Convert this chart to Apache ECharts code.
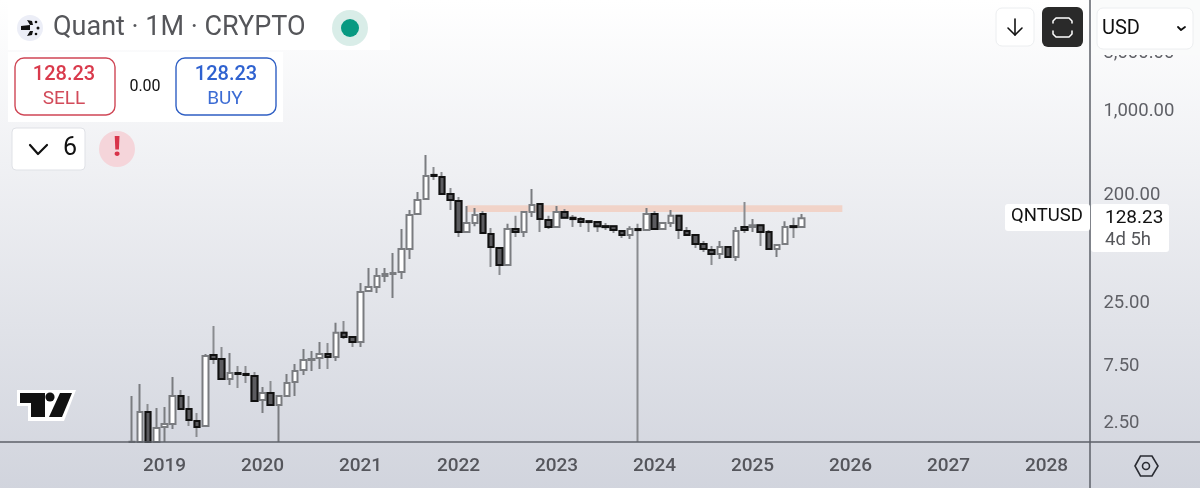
<!DOCTYPE html>
<html>
<head>
<meta charset="utf-8">
<style>html,body{margin:0;padding:0;background:#fff}#main{width:1200px;height:492px}</style>
<script src="https://cdn.jsdelivr.net/npm/echarts@6/dist/echarts.min.js"></script>
</head>
<body>
<div id="main"></div>
<script>
// monthly QNTUSD candles, Sep 2018 to Jul 2025
// anything that runs under the time axis in the picture is held at 1.75
var opens = [1.75,1.75,3.11,1.75,2.33,2.47,4.23,3.29,2.62,2.38,
  9.28,8.60,5.86,6.57,6.45,6.20,3.91,4.48,3.56,4.23,
  5.53,6.96,8.43,8.76,9.46,8.93,14.2,13.1,11.9,31.7,
  34.2,42.3,43.9,45.6,71.0,139,185,294,283,204,
  178,98.3,117,139,94.6,72.3,52.2,104,98.3,144,
  168,124,108,144,129,126,121,119,110,110,
  100,92.8,104,102,139,104,117,134,100,92.8,
  78.1,69.6,64.5,73.7,60.9,108,108,112,98.3,71.0,
  78.1,110,108];
var closes = [1.76,3.11,1.75,2.29,2.47,4.23,3.29,2.67,2.33,9.11,
  8.60,5.86,6.57,6.45,6.32,3.84,4.48,3.56,4.23,5.42,
  6.83,8.43,8.60,9.46,8.93,14.2,13.1,11.9,31.1,34.2,
  42.3,43.9,44.8,71.0,136,182,288,288,204,182,
  98.3,117,136,96.5,73.7,52.2,104,98.3,144,165,
  126,108,144,129,126,119,119,110,108,102,
  92.8,104,102,139,104,117,134,102,92.8,78.1,
  71.0,64.5,73.7,60.9,100,102,112,98.3,71.0,76.6,
  108,108,128.23];
var lows = [1.75,1.75,1.75,1.75,1.75,2.24,3.29,2.38,1.92,2.38,
  7.81,5.86,5.22,4.93,5.42,3.77,3.05,3.56,1.75,4.23,
  4.23,6.32,6.83,7.10,7.10,8.27,12.6,10.8,10.8,31.1,
  30.5,37.7,27.7,39.9,58.6,139,185,267,204,150,
  89.3,98.3,110,96.5,50.2,43.1,52.2,89.3,89.3,131,
  98.3,104,108,129,108,108,98.3,98.3,102,96.5,
  87.6,86.0,1.75,102,104,104,108,86.0,92.8,72.3,
  67.0,52.2,58.6,60.9,56.4,96.5,98.3,75.2,69.6,60.9,
  78.1,87.6,106];
var highs = [4.23,5.32,3.63,3.36,3.42,6.09,4.74,4.23,3.05,9.46,
  16.2,10.8,9.65,7.52,7.52,6.70,5.02,5.64,4.23,6.45,
  7.81,10.4,10.0,11.9,11.7,17.2,17.8,13.1,37.0,49.3,
  49.3,49.3,65.7,104,150,212,431,342,311,229,
  192,162,156,147,106,72.3,115,134,147,224,
  168,134,162,153,136,131,121,119,117,110,
  100,110,115,156,147,117,150,134,108,92.8,
  82.7,75.2,82.7,73.7,108,175,126,112,102,76.6,
  121,129,139];

var priceTicks = [2.5, 7.5, 25, 200, 1000, 3000];
var yearLabels = ['2019', '2020', '2021', '2022', '2023', '2024', '2025', '2026', '2027', '2028'];
var bandLow = 144, bandHigh = 164;

// axis runs Jun 2017 .. Jun 2028, one category per month
var months = [];
for (var i = 0; i < 133; i++) {
  var n = 2017 * 12 + 5 + i;
  months.push(Math.floor(n / 12) + '-' + ((n % 12) + 1));
}
var candleMonths = months.slice(15, 15 + opens.length);

var allCandles = [], darkBodies = [];
for (var k = 0; k < opens.length; k++) {
  allCandles.push([candleMonths[k], opens[k], closes[k], lows[k], highs[k]]);
  if (closes[k] <= opens[k]) {
    darkBodies.push([candleMonths[k], opens[k], closes[k], closes[k], opens[k]]);
  }
}

var FONT = 'Roboto';
function txt(x, y, s, size, color, align, weight) {
  return {
    type: 'text', z: 50, silent: true,
    style: { x: x, y: y + 1.5, text: s, fill: color, textAlign: align || 'left', textVerticalAlign: 'middle',
      font: (weight || 400) + ' ' + size + 'px ' + FONT }
  };
}
function box(x, y, w, h, r, fill, stroke, lw) {
  return {
    type: 'rect', z: 40, silent: true,
    shape: { x: x, y: y, width: w, height: h, r: r },
    style: { fill: fill, stroke: stroke || null, lineWidth: lw || 1 }
  };
}
function pline(points, color, lw) {
  return { type: 'polyline', z: 50, silent: true, shape: { points: points },
    style: { fill: null, stroke: color, lineWidth: lw, lineCap: 'round', lineJoin: 'round' } };
}
function poly(points, fill) {
  return { type: 'polygon', z: 50, silent: true, shape: { points: points }, style: { fill: fill } };
}
function dot(x, y, r, fill) {
  return { type: 'circle', z: 50, silent: true, shape: { cx: x, cy: y, r: r }, style: { fill: fill } };
}
function line(x1, y1, x2, y2, color, lw) {
  return { type: 'line', z: 30, silent: true, shape: { x1: x1, y1: y1, x2: x2, y2: y2 }, style: { stroke: color, lineWidth: lw } };
}

var overlay = [
  // frame
  line(0, 442, 1200, 442, '#5d6068', 1.5),
  line(1090, 0, 1090, 488, '#5d6068', 1.5),
  box(0, 488, 1200, 4, 0, '#ffffff'),
  box(1092, 0, 108, 55, 0, '#fafbfb'),

  // title block
  box(8, 0, 382, 50, 0, '#ffffff'),
  dot(30, 28, 13, '#eceef7'),
  poly([[21,26],[30,25],[30,30],[21,30]], '#111'),
  poly([[27,20],[32,21],[33,25],[30,25]], '#111'),
  poly([[27,36],[32,35],[33,31],[30,31]], '#111'),
  dot(38, 28, 1.5, '#111'),
  dot(36, 22, 1.3, '#111'),
  dot(36, 34, 1.3, '#111'),
  txt(53, 27, 'Quant · 1M · CRYPTO', 27, '#55565a'),
  dot(350, 28, 18, '#d9ede8'),
  dot(350, 28, 9, '#089981'),

  // sell / buy
  box(8, 52, 275, 70, 0, '#ffffff'),
  box(15, 58, 100, 57, 9, '#ffffff', '#cf4655', 1.4),
  txt(64, 73, '128.23', 20, '#d93a4c', 'center', 500),
  txt(64, 98, 'SELL', 19, '#d24b5a', 'center'),
  txt(145, 85, '0.00', 16, '#111', 'center'),
  box(176, 58, 100, 57, 9, '#ffffff', '#2f5fc4', 1.4),
  txt(226, 73, '128.23', 20, '#2f62d0', 'center', 500),
  txt(225, 98, 'BUY', 19, '#3c6cd4', 'center'),

  // indicators
  box(12, 128, 73, 42, 4, '#ffffff', '#dfe1e6', 1),
  pline([[30,145],[38,154],[47,145]], '#111', 2.2),
  txt(70, 147, '6', 25, '#111', 'center'),
  dot(117, 149, 18, '#f5d5da'),
  txt(117, 148, '!', 27, '#d8344a', 'center', 900),

  // top right buttons
  box(996, 8, 38, 38, 6, '#ffffff', '#eceef0', 1),
  pline([[1015,19],[1015,35]], '#111', 1.6),
  pline([[1008,28],[1015,35],[1022,28]], '#111', 1.6),
  box(1042, 7, 41, 40, 6, '#2a2a2a'),
  pline([[1053,23],[1053,21],[1056,18],[1069,18],[1072,21],[1072,23]], '#fff', 1.5),
  pline([[1053,31],[1053,34],[1056,37],[1069,37],[1072,34],[1072,31]], '#fff', 1.5),
  box(1097, 8, 96, 41, 6, '#ffffff', '#eceef0', 1),
  txt(1102, 27, 'USD', 20, '#111'),
  pline([[1178,27],[1181,30],[1185,27]], '#111', 1.8),

  // last price tags
  box(1005, 204, 85, 27, 3, '#ffffff'),
  txt(1011, 215, 'QNTUSD', 18.5, '#111'),
  box(1091, 204, 78, 48, 3, '#ffffff'),
  txt(1105, 217, '128.23', 19, '#111'),
  txt(1105, 239, '4d 5h', 18.5, '#55565a'),

  // logo
  poly([[17,390],[76,390],[64,421],[44,421],[28,421],[28,406],[17,406]], '#ffffff'),
  poly([[20,393],[45,393],[45,417],[31,417],[31,403],[20,403]], '#111'),
  dot(50, 397, 4.6, '#111'),
  poly([[60,393],[72,393],[62,417],[49,417]], '#111'),

  // settings
  { type: 'polygon', z: 50, silent: true, shape: { points: [[1135,466],[1140.5,456],[1152,456],[1158,466],[1152,476],[1140.5,476]] },
    style: { fill: null, stroke: '#2a2c33', lineWidth: 1.6 } },
  { type: 'circle', z: 50, silent: true, shape: { cx: 1146, cy: 466, r: 3.5 }, style: { fill: null, stroke: '#2a2c33', lineWidth: 1.6 } }
];

var chart = echarts.init(document.getElementById('main'));
chart.setOption({
  animation: false,
  backgroundColor: {
    type: 'linear', x: 0, y: 0, x2: 0, y2: 1,
    colorStops: [{ offset: 0, color: '#ffffff' }, { offset: 1, color: '#d1d4dd' }]
  },
  textStyle: { fontFamily: FONT },
  grid: { left: 5.25, top: 0, width: 1086.17, height: 442 },
  xAxis: {
    type: 'category',
    data: months,
    boundaryGap: true,
    axisLine: { show: false },
    axisTick: { show: false },
    splitLine: { show: false },
    axisLabel: {
      margin: 15,
      fontSize: 19,
      fontWeight: 500,
      color: '#55565c',
      interval: function (index, value) {
        var parts = value.split('-');
        return parts[1] === '1' && yearLabels.indexOf(parts[0]) >= 0;
      },
      formatter: function (value) { return value.split('-')[0]; }
    }
  },
  yAxis: {
    type: 'log',
    position: 'right',
    min: 1.748,
    max: 8434,
    axisLine: { show: false },
    axisTick: { show: false },
    splitLine: { show: false },
    axisLabel: {
      margin: 12,
      fontSize: 18.5,
      color: '#5f6066',
      padding: [3, 0, 0, 0],
      customValues: priceTicks,
      formatter: function (v) {
        return Number(v).toLocaleString('en-US', { minimumFractionDigits: 2, maximumFractionDigits: 2 });
      }
    }
  },
  series: [
    {
      type: 'candlestick',
      data: allCandles,
      encode: { x: 0, y: [1, 2, 3, 4] },
      barWidth: 6,
      clip: true,
      itemStyle: { color: '#ffffff', color0: '#5c5c60', borderColor: '#7a7c80', borderColor0: '#8a8c90', borderWidth: 2 },
      markArea: {
        silent: true,
        itemStyle: { color: '#f1d3c8' },
        data: [[{ xAxis: 55.55, yAxis: bandHigh }, { xAxis: 101.83, yAxis: bandLow }]]
      }
    },
    {
      type: 'candlestick',
      data: darkBodies,
      encode: { x: 0, y: [1, 2, 3, 4] },
      barWidth: 6,
      clip: true,
      itemStyle: { color: '#5c5c60', color0: '#5c5c60', borderColor: '#111', borderColor0: '#111', borderWidth: 2 }
    }
  ],
  graphic: overlay
});
</script>
</body>
</html>
